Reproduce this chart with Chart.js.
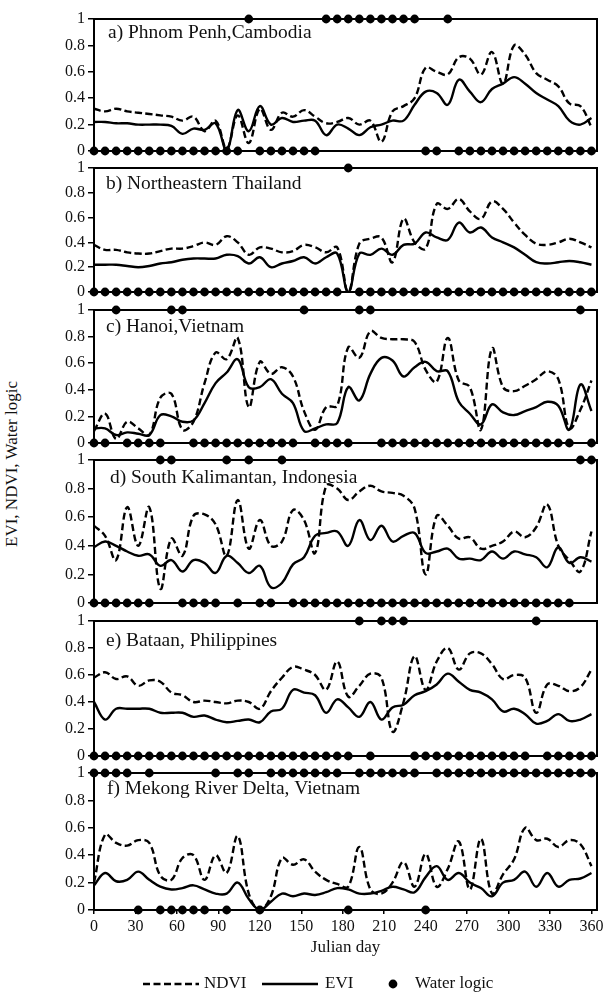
<!DOCTYPE html>
<html lang="en">
<head>
<meta charset="UTF-8">
<title>EVI, NDVI and water logic by site</title>
<script src="https://cdn.jsdelivr.net/npm/chart.js@4.4.1/dist/chart.umd.min.js"></script>
<style>
  html, body { margin: 0; padding: 0; background: #fff; }
  body {
    width: 603px; height: 1002px; position: relative; overflow: hidden;
    font-family: 'Liberation Serif', 'Times New Roman', serif;
  }
  .panel { position: absolute; left: 0; width: 603px; }
  #ylabel {
    position: absolute; left: 12px; top: 464px;
    transform: translate(-50%, -50%) rotate(-90deg);
    white-space: nowrap; font-size: 17px; color: #111;
  }
</style>
</head>
<body>
<div id="ylabel">EVI, NDVI, Water logic</div>
<script>
// 8-day composites, Julian day
const days = [0, 8, 16, 24, 32, 40, 48, 56, 64, 72, 80, 88, 96, 104, 112, 120, 128, 136, 144, 152,
  160, 168, 176, 184, 192, 200, 208, 216, 224, 232, 240, 248, 256, 264, 272, 280, 288, 296, 304, 312,
  320, 328, 336, 344, 352, 360];
const xTicks = [0, 30, 60, 90, 120, 150, 180, 210, 240, 270, 300, 330, 360];
const yTicks = [0, 0.2, 0.4, 0.6, 0.8, 1];
const yTickLabels = ['0', '0.2', '0.4', '0.6', '0.8', '1'];
const seriesNames = ['NDVI', 'EVI', 'Water logic'];

// a) Phnom Penh
const ndviA = [0.32,0.30,0.32,0.30,0.29,0.28,0.27,0.26,0.23,0.26,0.15,0.23,0.02,0.27,0.06,0.32,0.16,0.29,0.26,0.31,0.26,0.21,0.22,
  0.25,0.20,0.23,0.07,0.30,0.34,0.40,0.63,0.60,0.58,0.71,0.70,0.58,0.75,0.51,0.80,0.73,0.59,0.54,0.49,0.36,0.34,0.18];
const eviA = [0.22,0.22,0.21,0.21,0.20,0.20,0.20,0.19,0.13,0.17,0.16,0.21,0.00,0.31,0.15,0.34,0.20,0.25,0.22,0.23,0.23,0.12,0.20,
  0.17,0.12,0.18,0.20,0.23,0.23,0.35,0.45,0.44,0.35,0.54,0.45,0.37,0.47,0.51,0.56,0.51,0.44,0.39,0.34,0.23,0.20,0.25];
const waterA = [0,0,0,0,0,0,0,0,0,0, 0,0,0,0,1,0,0,0,0,0, 0,1,1,1,1,1,1,1,1,1, 0,0,1,0,0,0,0,0,0,0, 0,0,0,0,0,0];

// b) Northeastern Thailand
const ndviB = [0.38,0.34,0.34,0.32,0.31,0.31,0.33,0.35,0.35,0.37,0.40,0.38,0.45,0.40,0.30,0.36,0.35,0.32,0.33,0.38,0.36,0.32,0.36,
  0.00,0.39,0.43,0.44,0.24,0.59,0.40,0.35,0.71,0.67,0.75,0.65,0.59,0.73,0.67,0.56,0.46,0.39,0.38,0.40,0.43,0.40,0.36];
const eviB = [0.22,0.22,0.22,0.21,0.20,0.21,0.23,0.24,0.26,0.27,0.27,0.27,0.30,0.29,0.23,0.28,0.20,0.23,0.25,0.28,0.23,0.28,0.31,
  0.00,0.31,0.30,0.35,0.30,0.38,0.39,0.48,0.44,0.42,0.56,0.48,0.52,0.44,0.40,0.36,0.30,0.24,0.23,0.24,0.25,0.24,0.22];
const waterB = [0,0,0,0,0,0,0,0,0,0, 0,0,0,0,0,0,0,0,0,0, 0,0,0,1,0,0,0,0,0,0, 0,0,0,0,0,0,0,0,0,0, 0,0,0,0,0,0];

// c) Hanoi
const ndviC = [0.09,0.22,0.03,0.16,0.11,0.06,0.34,0.37,0.10,0.16,0.45,0.68,0.63,0.79,0.27,0.61,0.52,0.57,0.50,0.24,0.10,0.27,0.28,
  0.72,0.64,0.84,0.79,0.78,0.78,0.76,0.55,0.46,0.79,0.47,0.42,0.10,0.71,0.42,0.39,0.43,0.48,0.54,0.48,0.11,0.25,0.47];
const eviC = [0.11,0.11,0.06,0.08,0.07,0.06,0.21,0.20,0.16,0.17,0.30,0.45,0.53,0.63,0.42,0.42,0.48,0.37,0.30,0.09,0.11,0.14,0.15,
  0.42,0.32,0.52,0.64,0.62,0.50,0.57,0.61,0.54,0.54,0.31,0.22,0.14,0.29,0.23,0.21,0.24,0.27,0.31,0.28,0.10,0.44,0.24];
const waterC = [0,0,1,0,0,0,0,1,1,0, 0,0,0,0,0,0,0,0,0,1, 0,0,0,0,1,1,0,0,0,0, 0,0,0,0,0,0,0,0,0,0, 0,0,0,0,1,0];

// d) South Kalimantan
const ndviD = [0.54,0.47,0.30,0.67,0.40,0.67,0.10,0.45,0.33,0.61,0.62,0.55,0.33,0.72,0.38,0.58,0.40,0.43,0.65,0.58,0.35,0.82,0.80,
  0.72,0.78,0.82,0.78,0.77,0.75,0.66,0.20,0.61,0.54,0.45,0.46,0.38,0.40,0.43,0.50,0.46,0.53,0.69,0.40,0.30,0.22,0.50];
const eviD = [0.39,0.43,0.40,0.36,0.33,0.34,0.26,0.30,0.22,0.30,0.28,0.21,0.33,0.28,0.21,0.26,0.11,0.14,0.27,0.32,0.47,0.49,0.50,
  0.40,0.58,0.44,0.54,0.43,0.47,0.49,0.35,0.36,0.38,0.31,0.31,0.30,0.36,0.31,0.36,0.34,0.32,0.25,0.39,0.28,0.32,0.29];
const waterD = [0,0,0,0,0,0,1,1,0,0, 0,0,1,0,1,0,0,1,0,0, 0,0,0,0,0,0,0,0,0,0, 0,0,0,0,0,0,0,0,0,0, 0,0,0,0,1,1];

// e) Bataan
const ndviE = [0.58,0.62,0.57,0.59,0.52,0.56,0.55,0.47,0.45,0.40,0.41,0.40,0.39,0.41,0.40,0.35,0.48,0.58,0.66,0.64,0.60,0.49,0.70,
  0.44,0.52,0.61,0.58,0.18,0.40,0.74,0.49,0.70,0.80,0.64,0.76,0.76,0.68,0.57,0.60,0.58,0.32,0.53,0.52,0.48,0.51,0.64];
const eviE = [0.40,0.27,0.35,0.35,0.35,0.35,0.32,0.32,0.32,0.29,0.30,0.27,0.25,0.26,0.27,0.25,0.33,0.35,0.49,0.47,0.45,0.32,0.42,
  0.36,0.29,0.40,0.27,0.36,0.38,0.45,0.48,0.53,0.61,0.55,0.49,0.47,0.42,0.33,0.35,0.31,0.24,0.26,0.31,0.26,0.27,0.31];
const waterE = [0,0,0,0,0,0,0,0,0,0, 0,0,0,0,0,0,0,0,0,0, 0,0,0,0,1,0,1,1,1,0, 0,0,0,0,0,0,0,0,0,0, 1,0,0,0,0,0];

// f) Mekong River Delta
const ndviF = [0.20,0.55,0.49,0.47,0.51,0.49,0.25,0.22,0.38,0.40,0.22,0.40,0.27,0.54,0.12,0.00,0.10,0.38,0.33,0.37,0.28,0.22,0.19,
  0.17,0.46,0.15,0.12,0.20,0.35,0.17,0.41,0.17,0.30,0.50,0.15,0.52,0.12,0.26,0.37,0.60,0.51,0.52,0.46,0.51,0.48,0.32];
const eviF = [0.18,0.27,0.21,0.22,0.28,0.22,0.17,0.15,0.16,0.18,0.15,0.12,0.12,0.20,0.08,0.00,0.06,0.12,0.10,0.12,0.11,0.13,0.16,
  0.15,0.12,0.12,0.14,0.17,0.15,0.13,0.24,0.32,0.22,0.27,0.20,0.16,0.10,0.20,0.22,0.28,0.17,0.27,0.17,0.22,0.23,0.27];
const waterF = [1,1,1,1,0,1,0,0,0,0, 0,1,0,1,1,0,1,1,1,1, 1,1,1,0,1,1,1,1,1,1, 0,1,1,1,1,1,1,1,1,1, 1,1,1,1,1,1];

// panel boxes in page pixels (top of the 1-line, height down to 0)
const panels = [
  { title: 'a) Phnom Penh,Cambodia', ndvi: ndviA, evi: eviA, water: waterA, top: 19, h: 132, tx: 14, ty: 19 },
  { title: 'b) Northeastern Thailand', ndvi: ndviB, evi: eviB, water: waterB, top: 168, h: 124, tx: 12, ty: 21 },
  { title: 'c) Hanoi,Vietnam', ndvi: ndviC, evi: eviC, water: waterC, top: 310, h: 133, tx: 12, ty: 22 },
  { title: 'd) South Kalimantan, Indonesia', ndvi: ndviD, evi: eviD, water: waterD, top: 460, h: 143, tx: 16, ty: 23 },
  { title: 'e) Bataan, Philippines', ndvi: ndviE, evi: eviE, water: waterE, top: 621, h: 135, tx: 12, ty: 25 },
  { title: 'f) Mekong River Delta, Vietnam', ndvi: ndviF, evi: eviF, water: waterF, top: 773, h: 137, tx: 13, ty: 21 }
];

const FONT = "'Liberation Serif', 'Times New Roman', serif";
Chart.defaults.font.family = FONT;
Chart.defaults.color = '#111';

const DASH = [7, 3.5];
const LW = 2.4;

const boxPlugin = {
  id: 'box',
  beforeDatasetsDraw(chart) {
    const { ctx, chartArea: a } = chart;
    ctx.save();
    ctx.strokeStyle = '#000';
    ctx.lineWidth = 2;
    ctx.strokeRect(a.left, a.top, a.right - a.left, a.bottom - a.top);
    ctx.restore();
  }
};

const titlePlugin = {
  id: 'panelTitle',
  afterDraw(chart, args, opts) {
    const { ctx, chartArea: a } = chart;
    ctx.save();
    ctx.translate(a.left + opts.dx, a.top + opts.dy);
    ctx.scale(1.08, 1);
    ctx.font = '18px ' + FONT;
    ctx.fillStyle = '#111';
    ctx.textBaseline = 'alphabetic';
    ctx.fillText(opts.text, 0, 0);
    ctx.restore();
  }
};

const legendPlugin = {
  id: 'bottomLegend',
  afterDraw(chart, args, opts) {
    if (!opts.show) return;
    const ctx = chart.ctx;
    const y = chart.chartArea.bottom + opts.dy;
    ctx.save();
    ctx.strokeStyle = '#000';
    ctx.lineWidth = LW;
    ctx.setLineDash(DASH);
    ctx.beginPath(); ctx.moveTo(143, y); ctx.lineTo(199, y); ctx.stroke();
    ctx.setLineDash([]);
    ctx.beginPath(); ctx.moveTo(262, y); ctx.lineTo(318, y); ctx.stroke();
    ctx.fillStyle = '#000';
    ctx.beginPath(); ctx.arc(393, y, 4.4, 0, Math.PI * 2); ctx.fill();
    ctx.font = '17px ' + FONT;
    ctx.fillStyle = '#111';
    ctx.textBaseline = 'middle';
    ctx.fillText(seriesNames[0], 204, y);
    ctx.fillText(seriesNames[1], 325, y);
    ctx.fillText(seriesNames[2], 415, y);
    ctx.restore();
  }
};

function makePanel(p, last) {
  const padTop = 8;
  const padBottom = last ? 44 : 8;
  const axisH = last ? 48 : 0;
  const div = document.createElement('div');
  div.className = 'panel';
  div.style.top = (p.top - padTop) + 'px';
  div.style.height = (p.h + padTop + padBottom + axisH) + 'px';
  const canvas = document.createElement('canvas');
  div.appendChild(canvas);
  document.body.appendChild(div);

  new Chart(canvas, {
    type: 'line',
    data: {
      datasets: [
        {
          label: seriesNames[2],
          data: days.map((d, i) => ({ x: d, y: p.water[i] })),
          showLine: false,
          pointRadius: 4.4,
          pointBackgroundColor: '#000',
          pointBorderWidth: 0,
          clip: false,
          order: 0
        },
        {
          label: seriesNames[1],
          data: days.map((d, i) => ({ x: d, y: p.evi[i] })),
          borderColor: '#000',
          borderWidth: LW,
          pointRadius: 0,
          tension: 0.4,
          order: 1
        },
        {
          label: seriesNames[0],
          data: days.map((d, i) => ({ x: d, y: p.ndvi[i] })),
          borderColor: '#000',
          borderWidth: LW,
          borderDash: DASH,
          pointRadius: 0,
          tension: 0.4,
          order: 2
        }
      ]
    },
    options: {
      responsive: true,
      maintainAspectRatio: false,
      animation: false,
      devicePixelRatio: 1,
      layout: { padding: { top: padTop, bottom: padBottom, left: 0, right: 6 } },
      scales: {
        x: {
          type: 'linear',
          min: 0,
          max: 364,
          display: last,
          afterBuildTicks: s => { s.ticks = xTicks.map(v => ({ value: v })); },
          afterFit: s => { s.height = axisH; s.paddingLeft = 0; s.paddingRight = 0; },
          ticks: { font: { size: 16 }, color: '#111', padding: 3, maxRotation: 0, autoSkip: false },
          grid: { drawOnChartArea: false, tickLength: 4, color: '#000', lineWidth: 1.5 },
          border: { display: false },
          title: { display: true, text: 'Julian day', font: { size: 17 }, color: '#111', padding: 0 }
        },
        y: {
          min: 0,
          max: 1,
          afterBuildTicks: s => { s.ticks = yTicks.map(v => ({ value: v })); },
          afterFit: s => { s.width = 94; s.paddingTop = 0; s.paddingBottom = 0; },
          ticks: {
            font: { size: 16 }, color: '#111', padding: 3,
            callback: (v, i) => yTickLabels[i]
          },
          grid: { drawOnChartArea: false, tickLength: 6, color: '#000', lineWidth: 1.5 },
          border: { display: true, color: '#000', width: 2 }
        }
      },
      plugins: {
        legend: { display: false },
        tooltip: { enabled: false },
        panelTitle: { text: p.title, dx: p.tx, dy: p.ty },
        bottomLegend: { show: last, dy: 74 }
      }
    },
    plugins: [boxPlugin, titlePlugin, legendPlugin]
  });
}

panels.forEach((p, i) => makePanel(p, i === panels.length - 1));
</script>
</body>
</html>
